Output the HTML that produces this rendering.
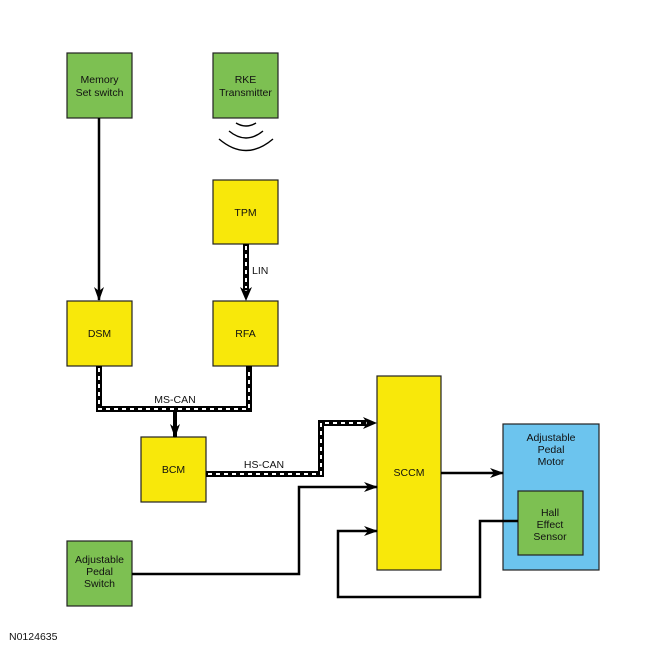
<!DOCTYPE html>
<html><head><style>body{margin:0;background:#fff}svg{display:block}text{font-family:"Liberation Sans",sans-serif;font-size:10.5px;fill:#111}</style></head><body>
<svg width="650" height="650" viewBox="0 0 650 650">
<defs><marker id="a" markerWidth="14" markerHeight="10" refX="13" refY="5" orient="auto" markerUnits="userSpaceOnUse"><path d="M0,0 L14,5 L0,10 L4,5z" fill="#000"/></marker></defs>
<g stroke="#222" stroke-width="1.2">
<rect x="67" y="53" width="65" height="65" fill="#7dc052"/>
<rect x="213" y="53" width="65" height="65" fill="#7dc052"/>
<rect x="213" y="180" width="65" height="64" fill="#f8e80a"/>
<rect x="67" y="301" width="65" height="65" fill="#f8e80a"/>
<rect x="213" y="301" width="65" height="65" fill="#f8e80a"/>
<rect x="141" y="437" width="65" height="65" fill="#f8e80a"/>
<rect x="377" y="376" width="64" height="194" fill="#f8e80a"/>
<rect x="503" y="424" width="96" height="146" fill="#6cc4ee"/>
<rect x="518" y="491" width="65" height="64" fill="#7dc052"/>
<rect x="67" y="541" width="65" height="65" fill="#7dc052"/>
</g>
<g fill="none" stroke="#000" stroke-width="1.4">
<path d="M236,123 Q246,129 256,123"/><path d="M229,131 Q246,145 263,131"/><path d="M219,139 Q246,162 273,139"/>
</g>
<g fill="none" stroke="#000" stroke-width="2.5">
<path d="M99,118 V300" marker-end="url(#a)"/>
<path d="M441,473 H503" marker-end="url(#a)"/>
<path d="M132,574 H299 V487 H377" marker-end="url(#a)"/>
<path d="M518,521 H480 V597 H338 V531 H377" marker-end="url(#a)"/>
<path d="M175,409 V437" stroke-width="4" marker-end="url(#a)"/>
</g>
<g fill="none" stroke="#000" stroke-width="6">
<path d="M246,244 V290"/>
<path d="M99,366 V409 H249 V366"/>
<path d="M206,474 H321 V423 H366"/>
</g>
<g fill="none" stroke="#fff" stroke-width="2" stroke-dasharray="4 4">
<path d="M246,246 V288"/>
<path d="M99,368 V409 H249 V368"/>
<path d="M208,474 H321 V423 H364"/>
</g>
<path d="M246,301 l-6,-14 l6,4 l6,-4z" fill="#000"/>
<path d="M377,423 l-14,-6 l4,6 l-4,6z" fill="#000"/>
<g text-anchor="middle">
<text x="99.5" y="83">Memory</text><text x="99.5" y="96">Set switch</text>
<text x="245.5" y="83">RKE</text><text x="245.5" y="96">Transmitter</text>
<text x="245.5" y="216">TPM</text>
<text x="99.5" y="337">DSM</text>
<text x="245.5" y="337">RFA</text>
<text x="173.5" y="473">BCM</text>
<text x="409" y="476">SCCM</text>
<text x="551" y="441">Adjustable</text><text x="551" y="453">Pedal</text><text x="551" y="465">Motor</text>
<text x="550" y="516">Hall</text><text x="550" y="528">Effect</text><text x="550" y="540">Sensor</text>
<text x="99.5" y="563">Adjustable</text><text x="99.5" y="575">Pedal</text><text x="99.5" y="587">Switch</text>
<text x="175" y="403">MS-CAN</text>
<text x="264" y="468">HS-CAN</text>
</g>
<text x="252" y="274">LIN</text>
<text x="9" y="640">N0124635</text>
</svg>
</body></html>
